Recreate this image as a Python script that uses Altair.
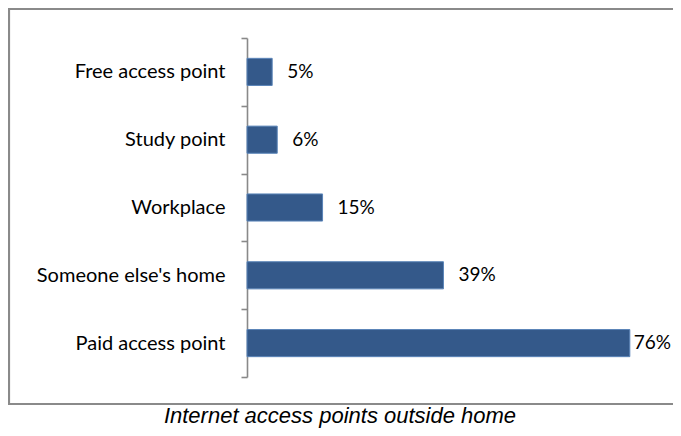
import altair as alt
import pandas as pd

categories = ["Free access point", "Study point", "Workplace", "Someone else's home", "Paid access point"]
values = [5, 6, 15, 39, 76]
labels = ["5%", "6%", "15%", "39%", "76%"]
TITLE = "Internet access points outside home"

df = pd.DataFrame({"category": categories, "value": values, "label": labels})

LABEL_FONT = "Lato"
LABEL_SIZE = 20
PCT_SIZE = 19

y_enc = alt.Y(
    "category:N",
    sort=categories,
    title=None,
    scale=alt.Scale(paddingInner=0, paddingOuter=0),
    axis=alt.Axis(
        tickBand="extent",
        domainColor="#898989",
        domainWidth=1.6,
        tickColor="#898989",
        tickWidth=1.6,
        tickSize=6,
        labelPadding=16,
        labelFont=LABEL_FONT,
        labelFontSize=LABEL_SIZE,
        labelColor="#000000",
        labelLimit=400,
        grid=False,
    ),
)
x_enc = alt.X("value:Q", scale=alt.Scale(domain=[0, 81], nice=False), axis=None)

base = alt.Chart(df)

box = alt.Chart(pd.DataFrame({"k": [0]})).mark_rect(
    fill="white", fillOpacity=0, stroke="#8a8a8a", strokeWidth=2.2
).encode(
    x=alt.value(-238), x2=alt.value(700), y=alt.value(-29), y2=alt.value(366)
)

bars = base.mark_bar(
    height={"band": 0.4}, color="#34598A", stroke="#5A84B8", strokeWidth=1
).encode(y=y_enc, x=x_enc)

txt_small = base.transform_filter(alt.datum.value < 70).mark_text(
    align="left", baseline="middle", dx=15, font=LABEL_FONT, fontSize=PCT_SIZE, color="#000000"
).encode(y=alt.Y("category:N", sort=categories), x="value:Q", text="label:N")

txt_big = base.transform_filter(alt.datum.value >= 70).mark_text(
    align="left", baseline="middle", dx=4, font=LABEL_FONT, fontSize=PCT_SIZE, color="#000000"
).encode(y=alt.Y("category:N", sort=categories), x="value:Q", text="label:N")

title = alt.Chart(pd.DataFrame({"t": [TITLE]})).mark_text(
    align="center", baseline="alphabetic", font="Liberation Sans", fontStyle="italic",
    fontSize=22, color="#000000"
).encode(x=alt.value(93), y=alt.value(385), text="t:N")

chart = alt.layer(box, bars, txt_small, txt_big, title).properties(
    width=408,
    height=339,
    autosize=alt.AutoSizeParams(type="none"),
    padding={"left": 239, "top": 30, "right": 18, "bottom": 51},
).configure_view(stroke=None)

chart.save("out.html", embed_options={"renderer": "svg", "actions": False})
